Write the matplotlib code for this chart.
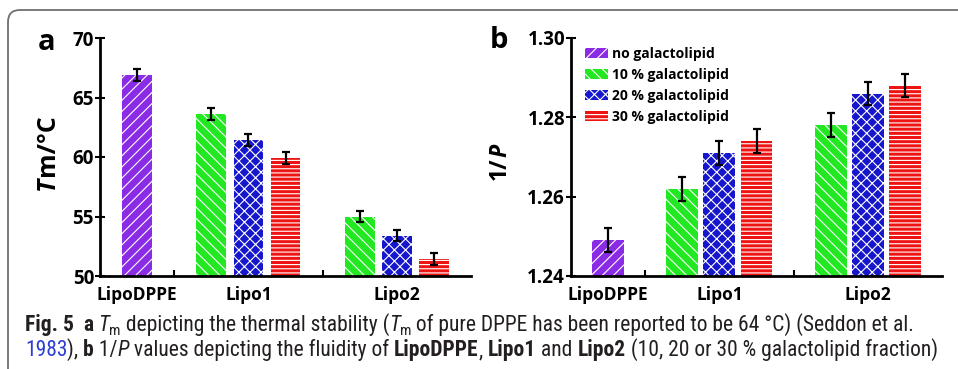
import matplotlib
matplotlib.use("Agg")
import matplotlib.pyplot as plt
from matplotlib.patches import Patch, FancyBboxPatch
from matplotlib import font_manager as fm
import matplotlib.transforms as mtransforms
import numpy as np

# ---------------- data ----------------
categories = ["LipoDPPE", "Lipo1", "Lipo2"]
series_labels = ["no galactolipid", "10 % galactolipid", "20 % galactolipid", "30 % galactolipid"]

# panel a: Tm (deg C)
tm_none = [66.9]          # LipoDPPE
tm_10 = [63.6, 55.0]      # Lipo1, Lipo2
tm_20 = [61.4, 53.4]
tm_30 = [59.95, 51.45]
tm_err_none = [0.5]
tm_err_10 = [0.5, 0.5]
tm_err_20 = [0.5, 0.5]
tm_err_30 = [0.5, 0.5]

# panel b: 1/P
p_none = [1.249]
p_10 = [1.262, 1.278]
p_20 = [1.271, 1.286]
p_30 = [1.274, 1.288]
p_err_none = [0.003]
p_err_10 = [0.003, 0.003]
p_err_20 = [0.003, 0.003]
p_err_30 = [0.003, 0.003]

tm_ticks = [50, 55, 60, 65, 70]
tm_ticklabels = ["50", "55", "60", "65", "70"]
p_ticks = [1.24, 1.26, 1.28, 1.30]
p_ticklabels = ["1.24", "1.26", "1.28", "1.30"]

# ---------------- style ----------------
colors = ["#8a2be6", "#22e822", "#1616cc", "#ee1414"]
hatches = ["///", "\\\\\\", "xxx", "----"]

plt.rcParams["hatch.color"] = "white"
plt.rcParams["hatch.linewidth"] = 0.8
plt.rcParams["font.family"] = ["Open Sans", "DejaVu Sans"]
plt.rcParams["font.weight"] = "bold"
AXF = ["Open Sans", "DejaVu Sans"]

W, H = 958, 369
DPI = 100
fig = plt.figure(figsize=(W / DPI, H / DPI), dpi=DPI)

# slot positions: LipoDPPE at 1, Lipo1 at 3-5, Lipo2 at 7-9
pos_none = [1]
pos_10 = [3, 7]
pos_20 = [4, 8]
pos_30 = [5, 9]
cat_pos = [1, 4, 8]


def draw_panel(ax, vals, errs, width, ylim, yticks, yticklabels):
    positions = [pos_none, pos_10, pos_20, pos_30]
    for i in range(4):
        ax.bar(positions[i], vals[i], width=width, color=colors[i], hatch=hatches[i],
               linewidth=0, zorder=2)
        ax.errorbar(positions[i], vals[i], yerr=errs[i], fmt="none", ecolor="black",
                    elinewidth=1.6, capsize=3, capthick=1.6, zorder=3)
    ax.set_xlim(0, 10)
    ax.set_ylim(*ylim)
    ax.set_xticks(cat_pos)
    ax.set_xticks(range(1, 10), minor=True)
    ax.set_yticks(yticks)
    ax.tick_params(axis="x", which="major", length=0, pad=7)
    ax.tick_params(axis="x", which="minor", direction="in", length=4, width=1.5)
    ax.tick_params(axis="y", which="major", direction="inout", length=7, width=1.5,
                   labelleft=False)
    ax.set_xticklabels(categories, fontweight="bold", fontsize=12.5, family=AXF)
    # y tick labels as bold texts placed at the tick values
    trans = mtransforms.blended_transform_factory(ax.transAxes, ax.transData) + \
        mtransforms.ScaledTranslation(-6 / DPI, 0, fig.dpi_scale_trans)
    for v, lab in zip(yticks, yticklabels):
        ax.text(0, v, lab, transform=trans, ha="right", va="center_baseline",
                fontsize=13.5, fontweight="bold", family=AXF)
    for s in ["top", "right"]:
        ax.spines[s].set_visible(False)
    for s in ["left", "bottom"]:
        ax.spines[s].set_linewidth(2)


axa = fig.add_axes([100 / W, 1 - 276 / H, 371 / W, 238 / H])
draw_panel(axa, [tm_none, tm_10, tm_20, tm_30],
           [tm_err_none, tm_err_10, tm_err_20, tm_err_30],
           0.8, (50, 70), tm_ticks, tm_ticklabels)
axb = fig.add_axes([571 / W, 1 - 276 / H, 371 / W, 238 / H])
draw_panel(axb, [p_none, p_10, p_20, p_30],
           [p_err_none, p_err_10, p_err_20, p_err_30],
           0.86, (1.24, 1.30), p_ticks, p_ticklabels)


def rot_label(parts, x_px, yc_px, fs):
    renderer = fig.canvas.get_renderer()
    widths = []
    objs = []
    for t, st in parts:
        o = fig.text(0, 0, t, fontsize=fs, fontweight="bold", fontstyle=st, family=AXF,
                     rotation=90, ha="center", va="bottom")
        bb = o.get_window_extent(renderer)
        widths.append(bb.height)
        objs.append(o)
    total = sum(widths)
    y = (H - yc_px) - total / 2
    for o, w in zip(objs, widths):
        o.set_position((x_px / W, y / H))
        y += w


rot_label([("T", "italic"), ("m/°C", "normal")], 47, 152, 18)
rot_label([("1/", "normal"), ("P", "italic")], 500, 162, 16.5)

# panel letters
fig.text(47 / W, 1 - 43 / H, "a", fontsize=21, fontweight="bold", family=AXF, ha="center", va="center")
fig.text(499 / W, 1 - 41 / H, "b", fontsize=21, fontweight="bold", family=AXF, ha="center", va="center")

# legend
handles = [Patch(facecolor=colors[i], hatch=hatches[i], linewidth=0) for i in range(4)]
axb.legend(handles, series_labels, loc="upper left", bbox_to_anchor=(0.012, 1.005),
           frameon=False, prop={"weight": "bold", "size": 10, "family": AXF},
           handlelength=1.65, handleheight=0.75, handletextpad=0.3, labelspacing=0.52,
           borderaxespad=0.3)

# border box
box = FancyBboxPatch((8, -100), 1200, 459, boxstyle="round,pad=0,rounding_size=12",
                     transform=None, facecolor="none", edgecolor="#707070", linewidth=1.3,
                     figure=fig)
fig.patches.append(box)

# ---------------- caption ----------------
cands = ["Liberation Sans Narrow", "Roboto Condensed", "Open Sans Condensed", "Noto Sans", "DejaVu Sans"]
cap_font = "DejaVu Sans"
for c in cands:
    try:
        fm.findfont(fm.FontProperties(family=c), fallback_to_default=False)
        cap_font = c
        break
    except Exception:
        pass

TXT = "#231f20"
LINK = "#2b3fd4"
line1 = [("Fig. 5", "b"), ("  ", "n"), ("a", "b"), (" ", "n"), ("T", "i"), ("m", "s"),
         (" depicting the thermal stability (", "n"), ("T", "i"), ("m", "s"),
         (" of pure DPPE has been reported to be 64 °C) (Seddon et al.", "n")]
line2 = [("1983", "l"), ("), ", "n"), ("b", "b"), (" 1/", "n"), ("P", "i"),
         (" values depicting the fluidity of ", "n"), ("LipoDPPE", "b"), (", ", "n"),
         ("Lipo1", "b"), (" and ", "n"), ("Lipo2", "b"),
         (" (10, 20 or 30 % galactolipid fraction)", "n")]


def style_kw(st, fs):
    kw = dict(family=cap_font, fontsize=fs, color=TXT, fontweight="normal", fontstyle="normal")
    if st == "b":
        kw["fontweight"] = "bold"
    elif st == "i":
        kw["fontstyle"] = "italic"
    elif st == "s":
        kw["fontsize"] = fs * 0.7
    elif st == "l":
        kw["color"] = LINK
    return kw


def measure(s, kw, renderer):
    t1 = fig.text(0, 0, "|" + s + "|", **kw)
    t2 = fig.text(0, 0, "||", **kw)
    w = t1.get_window_extent(renderer).width - t2.get_window_extent(renderer).width
    t1.remove()
    t2.remove()
    return w


def layout(tokens, fs, x0, base_y, draw):
    renderer = fig.canvas.get_renderer()
    x = x0
    for s, st in tokens:
        kw = style_kw(st, fs)
        w = measure(s, kw, renderer)
        if draw:
            dy = -4 if st == "s" else 0
            fig.text(x / W, (H - base_y + dy) / H, s, ha="left", va="baseline", **kw)
        x += w
    return x - x0


fs = 12
w2 = layout(line2, fs, 25, 356, False)
fs = fs * (915 / w2)
layout(line1, fs, 25, 331, True)
layout(line2, fs, 25, 356, True)

fig.savefig("out.png", dpi=DPI)
